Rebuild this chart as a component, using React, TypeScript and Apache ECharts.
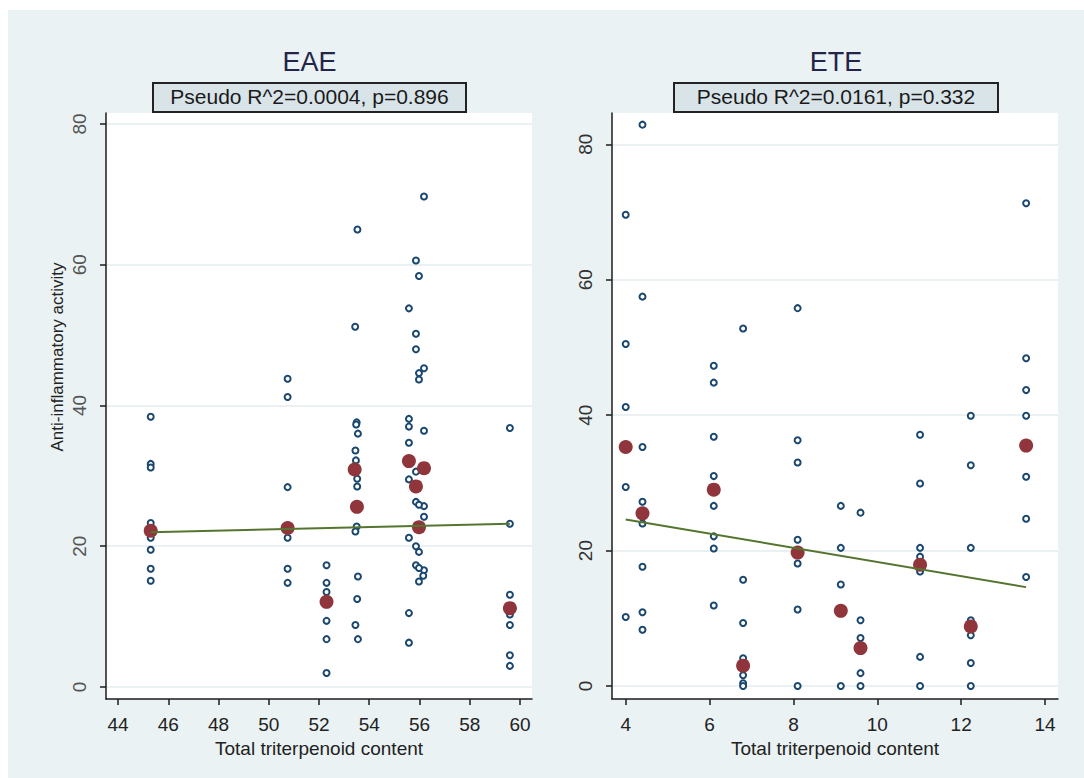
import React, { useEffect, useRef } from "react";
import * as echarts from "echarts";

// ---------- DATA ----------
// EAE panel: individual observations (x = total triterpenoid content, y = anti-inflammatory activity)
const eaeX = [
  45.3, 45.3, 45.3, 45.3, 45.3, 45.3, 45.3, 45.3, 45.3,
  50.75, 50.75, 50.75, 50.75, 50.75, 50.75, 50.75,
  52.3, 52.3, 52.3, 52.3, 52.3, 52.3,
  53.53, 53.44, 53.5, 53.48, 53.55, 53.45, 53.47, 53.52, 53.52, 53.5, 53.45, 53.55, 53.52, 53.45, 53.55,
  56.18, 56.18, 56.18, 56.18, 56.18, 56.18, 56.15,
  55.86, 55.86, 55.86, 55.86, 55.86, 55.86, 55.86,
  55.98, 55.98, 55.98, 55.98, 55.98, 55.98, 55.98,
  55.58, 55.58, 55.58, 55.58, 55.58, 55.58, 55.58, 55.58,
  59.6, 59.6, 59.6, 59.6, 59.6, 59.6, 59.6,
];
const eaeY = [
  38.4, 31.7, 31.2, 23.3, 22.3, 21.2, 19.5, 16.8, 15.1,
  43.8, 41.2, 28.4, 22.8, 21.2, 16.8, 14.8,
  17.3, 14.8, 13.5, 9.4, 6.8, 2.0,
  65.0, 51.2, 37.6, 37.3, 36.0, 33.6, 32.2, 29.6, 28.5, 22.8, 22.1, 15.7, 12.5, 8.8, 6.8,
  69.7, 45.3, 36.4, 25.7, 24.2, 16.6, 15.8,
  60.6, 50.2, 48.0, 30.6, 26.3, 20.0, 17.3,
  58.4, 44.6, 43.7, 25.9, 19.2, 16.9, 15.0,
  53.8, 38.1, 37.0, 34.7, 29.5, 21.2, 10.5, 6.3,
  36.8, 23.2, 13.1, 10.3, 8.8, 4.5, 3.0,
];
// EAE panel: sample means
const eaeMeanX = [45.3, 50.75, 52.3, 53.42, 53.51, 55.58, 56.18, 55.86, 55.98, 59.6];
const eaeMeanY = [22.2, 22.6, 12.1, 30.9, 25.6, 32.1, 31.1, 28.5, 22.7, 11.2];
// EAE panel: fitted line end points
const eaeFitX = [45.3, 59.6];
const eaeFitY = [22.0, 23.2];

// ETE panel: individual observations
const eteX = [
  4.0, 4.0, 4.0, 4.0, 4.0,
  4.4, 4.4, 4.4, 4.4, 4.4, 4.4, 4.4, 4.4,
  6.1, 6.1, 6.1, 6.1, 6.1, 6.1, 6.1, 6.1,
  6.8, 6.8, 6.8, 6.8, 6.8, 6.8, 6.8,
  8.1, 8.1, 8.1, 8.1, 8.1, 8.1, 8.1,
  9.13, 9.13, 9.13, 9.13,
  9.6, 9.6, 9.6, 9.6, 9.6,
  11.02, 11.02, 11.02, 11.02, 11.02, 11.02, 11.02,
  12.23, 12.23, 12.23, 12.23, 12.23, 12.23, 12.23,
  13.55, 13.55, 13.55, 13.55, 13.55, 13.55, 13.55,
];
const eteY = [
  69.6, 50.5, 41.2, 29.4, 10.2,
  82.9, 57.5, 35.3, 27.2, 24.0, 17.6, 10.9, 8.3,
  47.3, 44.8, 36.8, 31.0, 26.6, 22.1, 20.3, 11.9,
  52.8, 15.7, 9.3, 4.1, 1.6, 0.4, 0.0,
  55.8, 36.3, 33.0, 21.6, 18.1, 11.3, 0.0,
  26.6, 20.4, 15.0, 0.0,
  25.6, 9.7, 7.1, 1.9, 0.0,
  37.1, 29.9, 20.4, 19.1, 16.9, 4.3, 0.0,
  39.9, 32.6, 20.4, 9.7, 7.5, 3.4, 0.0,
  71.3, 48.4, 43.7, 39.9, 30.9, 24.7, 16.1,
];
const eteMeanX = [4.0, 4.4, 6.1, 6.8, 8.1, 9.13, 9.6, 11.02, 12.23, 13.55];
const eteMeanY = [35.3, 25.5, 29.0, 3.0, 19.7, 11.1, 5.6, 17.9, 8.8, 35.5];
const eteFitX = [4.0, 13.55];
const eteFitY = [24.6, 14.6];

// Tick labels
const eaeXTicks = [44, 46, 48, 50, 52, 54, 56, 58, 60];
const eteXTicks = [4, 6, 8, 10, 12, 14];
const yTicks = [0, 20, 40, 60, 80];

// Texts
const panelTitles = ["EAE", "ETE"];
const panelStats = ["Pseudo R^2=0.0004, p=0.896", "Pseudo R^2=0.0161, p=0.332"];
const xTitle = "Total triterpenoid content";
const yTitle = "Anti-inflammatory activity";

// ---------- STYLE ----------
const FONT = '"Liberation Sans", Arial, Helvetica, sans-serif';
const NAVY = "#1a476f";
const MAROON = "#90353b";
const GREEN = "#55752f";
const AXIS = "#1c1c1c";
const BG = "#eaf2f3";

const zip = (xs: number[], ys: number[]) => xs.map((x, i) => [x, ys[i]]);

function xAxisDef(gridIndex: number, min: number, max: number, ticks: number[]) {
  return {
    type: "value",
    gridIndex,
    min,
    max,
    axisLine: { show: true, onZero: false, lineStyle: { color: AXIS, width: 1.5 } },
    axisTick: { show: true, customValues: ticks, length: 6, lineStyle: { color: AXIS, width: 1.5 } },
    axisLabel: { customValues: ticks, fontSize: 19, color: "#222", margin: 16, fontFamily: FONT },
    splitLine: { show: false },
    name: xTitle,
    nameLocation: "middle",
    nameGap: 32,
    nameTextStyle: { fontSize: 19, color: "#222", fontFamily: FONT },
  };
}

function yAxisDef(gridIndex: number, min: number, max: number, labelColor: string) {
  return {
    type: "value",
    gridIndex,
    min,
    max,
    axisLine: { show: true, onZero: false, lineStyle: { color: AXIS, width: 1.5 } },
    axisTick: { show: true, customValues: yTicks, length: 6, lineStyle: { color: AXIS, width: 1.5 } },
    axisLabel: {
      customValues: yTicks,
      rotate: 90,
      fontSize: 19,
      color: labelColor,
      margin: 17,
      fontFamily: FONT,
    },
    splitLine: { show: true, lineStyle: { color: "#e4edef", width: 1.5 } },
  };
}

export default function App() {
  const ref = useRef<HTMLDivElement>(null);

  useEffect(() => {
    if (!ref.current) return;
    const chart = echarts.init(ref.current, undefined, { renderer: "svg" });

    const hollow = (xs: number[], ys: number[], idx: number) => ({
      type: "scatter",
      xAxisIndex: idx,
      yAxisIndex: idx,
      data: zip(xs, ys),
      symbol: "emptyCircle",
      symbolSize: 6,
      itemStyle: { color: NAVY, borderColor: NAVY, borderWidth: 1.6, opacity: 1 },
      z: 2,
    });
    const means = (xs: number[], ys: number[], idx: number) => ({
      type: "scatter",
      xAxisIndex: idx,
      yAxisIndex: idx,
      data: zip(xs, ys),
      symbol: "circle",
      symbolSize: 14,
      itemStyle: { color: MAROON, opacity: 1 },
      z: 3,
    });
    const fit = (xs: number[], ys: number[], idx: number) => ({
      type: "line",
      xAxisIndex: idx,
      yAxisIndex: idx,
      data: zip(xs, ys),
      symbol: "none",
      lineStyle: { color: GREEN, width: 2 },
      z: 4,
    });

    const titleText = (text: string, cx: number) => ({
      type: "text",
      x: cx,
      y: 52,
      style: {
        text,
        fontSize: 27,
        fontFamily: FONT,
        fill: "#24244a",
        textAlign: "center",
        textVerticalAlign: "middle",
        align: "center",
        verticalAlign: "middle",
      },
    });
    const statBox = (text: string, x: number, w: number) => [
      {
        type: "rect",
        shape: { x, y: 73, width: w, height: 29 },
        style: { fill: "#d9e4e9", stroke: "#222", lineWidth: 2 },
      },
      {
        type: "text",
        x: x + w / 2,
        y: 86,
        style: {
          text,
          fontSize: 21,
          fontFamily: FONT,
          fill: "#1a1a1a",
          textAlign: "center",
          textVerticalAlign: "middle",
          align: "center",
          verticalAlign: "middle",
        },
      },
    ];

    chart.setOption({
      animation: false,
      backgroundColor: BG,
      grid: [
        { left: 98, top: 103, width: 426, height: 586, show: true, backgroundColor: "#fff", borderWidth: 0 },
        { left: 604, top: 103, width: 446, height: 586, show: true, backgroundColor: "#fff", borderWidth: 0 },
      ],
      xAxis: [xAxisDef(0, 43.52, 60.48, eaeXTicks), xAxisDef(1, 3.673, 14.31, eteXTicks)],
      yAxis: [yAxisDef(0, -1.705, 81.56, "#555"), yAxisDef(1, -1.92, 84.62, "#333")],
      series: [
        hollow(eaeX, eaeY, 0),
        fit(eaeFitX, eaeFitY, 0),
        means(eaeMeanX, eaeMeanY, 0),
        hollow(eteX, eteY, 1),
        fit(eteFitX, eteFitY, 1),
        means(eteMeanX, eteMeanY, 1),
      ],
      graphic: [
        titleText(panelTitles[0], 301.5),
        titleText(panelTitles[1], 828),
        ...statBox(panelStats[0], 145, 313),
        ...statBox(panelStats[1], 666, 324),
        {
          type: "text",
          x: 49,
          y: 347,
          rotation: Math.PI / 2,
          style: {
            text: yTitle,
            fontSize: 17,
            fontFamily: FONT,
            fill: "#222",
            textAlign: "center",
            textVerticalAlign: "middle",
            align: "center",
            verticalAlign: "middle",
          },
        },
      ],
    });

    return () => chart.dispose();
  }, []);

  return (
    <div
      ref={ref}
      style={{ position: "absolute", left: 8, top: 10, width: 1076, height: 768 }}
    />
  );
}
